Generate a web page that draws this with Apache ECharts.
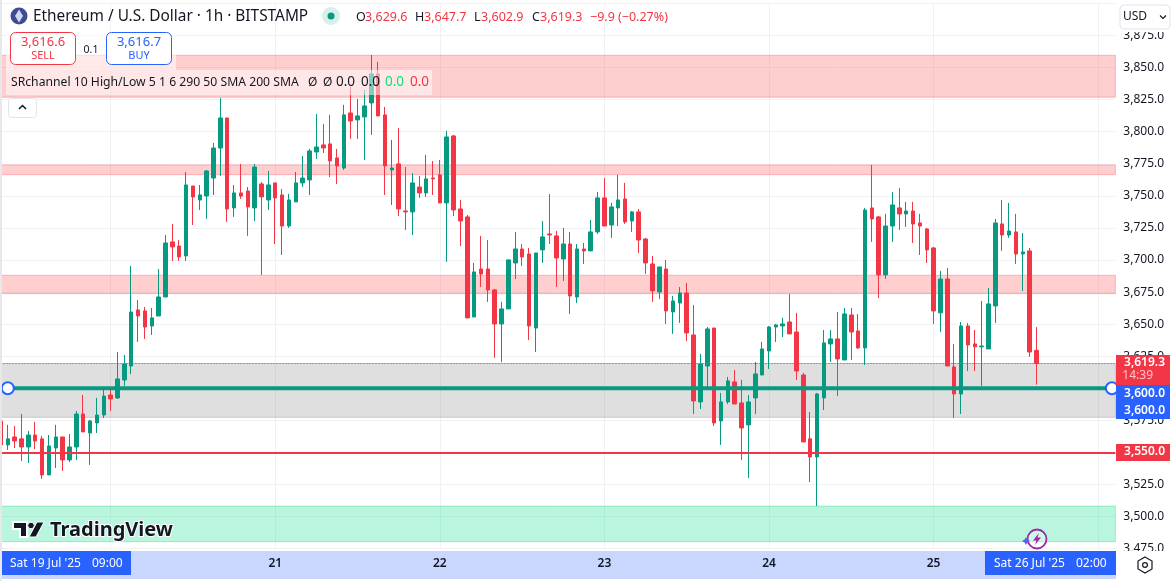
<!DOCTYPE html>
<html>
<head>
<meta charset="utf-8">
<title>ETH/USD 1h</title>
<script src="https://cdn.jsdelivr.net/npm/echarts@6/dist/echarts.min.js"></script>
<style>
html, body { margin: 0; padding: 0; background: #fff; }
#chart { width: 1176px; height: 581px; }
</style>
</head>
<body>
<div id="chart"></div>
<script>
// candle values, one per hour from 19 Jul 08:00
var opens = [
	3574.6,3555.9,3562.1,3560.6,3554.3,3563.6,3560.6,3532.5,3553.5,3562.1,
	3544.2,3554.3,3580.0,3565.2,3573.0,3579.2,3594.8,3592.5,3606.5,3617.4,
	3661.1,3660.3,3648.6,3656.4,3671.2,3714.1,3710.9,3703.2,3757.7,3746.8,
	3749.9,3763.9,3787.3,3810.7,3740.6,3752.3,3753.8,3740.6,3759.3,3746.8,
	3760.1,3750.7,3726.5,3745.3,3760.1,3762.4,3784.2,3789.7,3790.5,3779.6,
	3771.7,3814.6,3809.2,3811.5,3822.4,3845.0,3813.1,3770.2,3774.9,3738.2,
	3737.5,3756.9,3752.3,3763.9,3766.3,3744.5,3796.7,3739.8,3733.6,3655.6,
	3693.0,3693.0,3676.7,3650.2,3661.9,3697.7,3708.6,3704.7,3647.0,3707.9,
	3720.3,3718.8,3700.8,3712.5,3671.2,3708.6,3707.1,3721.9,3748.4,3727.3,
	3740.6,3747.6,3730.4,3737.5,3716.4,3696.9,3675.1,3693.0,3659.5,3666.5,
	3674.3,3641.6,3589.4,3617.4,3647.0,3574.6,3589.4,3605.0,3588.6,3571.5,
	3592.5,3610.4,3629.1,3647.8,3648.6,3651.7,3643.9,3610.4,3560.6,3546.5,
	3592.5,3634.6,3638.5,3622.1,3657.2,3644.7,3631.5,3740.6,3733.6,3688.4,
	3726.5,3740.6,3735.9,3738.2,3728.9,3724.2,3709.4,3658.8,3685.2,3616.7,
	3595.6,3648.6,3634.6,3632.3,3630.7,3664.2,3728.1,3719.5,3721.9,3704.7,
	3707.1,3629.6
];
var closes = [
	3555.9,3560.6,3559.0,3554.3,3563.6,3559.0,3532.5,3555.1,3562.1,3544.2,
	3554.3,3580.0,3566.0,3574.6,3579.2,3594.0,3591.7,3607.3,3619.0,3659.5,
	3656.4,3647.8,3654.9,3671.2,3713.3,3710.2,3702.4,3758.5,3749.2,3750.7,
	3769.4,3787.3,3810.7,3739.8,3752.3,3749.9,3741.4,3772.5,3749.2,3758.5,
	3748.4,3726.5,3746.8,3760.1,3763.9,3785.0,3788.1,3787.3,3777.2,3773.3,
	3813.1,3808.4,3812.3,3820.1,3845.0,3812.3,3773.3,3771.7,3739.8,3737.5,
	3760.1,3752.3,3763.2,3763.2,3744.5,3795.9,3739.0,3730.4,3654.9,3690.7,
	3689.1,3676.7,3650.2,3661.9,3700.1,3708.6,3702.4,3648.6,3705.5,3718.0,
	3719.5,3701.6,3712.5,3672.0,3708.6,3707.1,3721.9,3748.4,3726.5,3741.4,
	3746.8,3729.7,3737.5,3715.6,3697.7,3675.9,3694.6,3660.3,3668.1,3674.3,
	3643.2,3590.2,3619.0,3646.3,3573.0,3589.4,3605.8,3587.8,3569.1,3589.4,
	3611.2,3630.7,3647.8,3649.4,3650.2,3642.4,3613.5,3558.2,3546.5,3595.6,
	3635.4,3638.5,3622.9,3658.0,3643.9,3631.5,3739.0,3732.0,3688.4,3726.5,
	3742.9,3735.9,3738.2,3728.1,3726.5,3707.9,3660.3,3685.2,3617.4,3595.6,
	3648.6,3633.8,3632.3,3633.0,3665.8,3728.9,3719.5,3722.6,3704.7,3706.3,
	3628.3,3619.3
];
var lows = [
	3551.9,3552.0,3553.5,3543.4,3541.8,3552.7,3529.4,3532.5,3537.9,3535.6,
	3542.6,3544.2,3566.0,3540.3,3565.2,3576.9,3582.4,3591.7,3601.9,3611.2,
	3636.1,3638.5,3641.6,3656.4,3671.2,3699.3,3699.3,3699.3,3727.3,3739.0,
	3732.0,3750.7,3765.5,3729.7,3733.6,3747.6,3718.8,3730.4,3688.4,3739.0,
	3712.5,3703.9,3725.0,3745.3,3756.9,3750.7,3778.8,3783.4,3764.7,3759.3,
	3770.2,3794.4,3794.4,3778.0,3797.5,3812.3,3750.7,3742.9,3734.3,3723.4,
	3719.5,3748.4,3749.2,3750.7,3744.5,3698.5,3734.3,3710.9,3654.9,3655.6,
	3679.0,3667.3,3623.7,3620.6,3661.9,3685.2,3695.4,3637.7,3628.3,3697.7,
	3712.5,3679.0,3683.7,3658.0,3666.5,3696.9,3707.1,3720.3,3726.5,3717.2,
	3726.5,3728.1,3721.9,3705.5,3689.1,3667.3,3669.7,3650.2,3642.4,3651.0,
	3636.9,3580.0,3583.9,3601.1,3570.7,3555.9,3587.8,3587.8,3544.2,3530.1,
	3580.0,3610.4,3615.1,3636.1,3640.0,3642.4,3606.5,3558.2,3527.0,3508.3,
	3583.1,3620.6,3594.0,3622.1,3622.1,3630.7,3618.2,3714.1,3670.4,3685.2,
	3714.1,3723.4,3725.8,3713.3,3703.9,3697.7,3650.2,3644.0,3617.4,3576.9,
	3580.0,3613.5,3613.5,3601.9,3630.7,3651.0,3707.1,3717.2,3696.9,3675.9,
	3624.5,3602.9
];
var highs = [
	3576.9,3571.5,3570.7,3580.0,3566.8,3573.8,3562.9,3563.6,3571.5,3562.1,
	3564.4,3582.4,3594.8,3575.4,3592.5,3599.5,3598.7,3628.3,3626.0,3695.4,
	3668.9,3663.4,3662.6,3693.0,3719.5,3728.1,3715.6,3768.6,3757.7,3758.5,
	3770.2,3791.2,3826.3,3810.7,3758.5,3774.9,3756.9,3774.9,3760.8,3769.4,
	3760.1,3755.4,3751.5,3768.6,3781.1,3786.6,3813.8,3806.1,3813.1,3786.6,
	3820.9,3834.9,3825.5,3832.6,3859.8,3854.4,3819.3,3793.6,3802.9,3772.5,
	3767.9,3765.5,3781.9,3777.2,3778.0,3800.6,3797.5,3746.8,3735.1,3697.7,
	3718.8,3715.6,3677.5,3667.3,3700.1,3721.9,3712.5,3709.4,3705.5,3730.4,
	3751.5,3722.7,3725.0,3721.9,3712.5,3713.3,3731.2,3753.0,3763.9,3744.5,
	3766.3,3760.1,3738.2,3739.8,3717.2,3703.2,3694.6,3700.1,3672.0,3679.0,
	3682.1,3665.0,3626.8,3647.8,3647.0,3596.4,3608.9,3614.3,3606.5,3594.8,
	3620.6,3636.1,3648.6,3650.2,3654.9,3673.6,3658.8,3612.0,3581.6,3596.4,
	3645.5,3645.5,3659.5,3662.6,3662.6,3657.9,3740.6,3774.1,3734.3,3735.9,
	3753.0,3756.2,3745.3,3745.3,3735.9,3725.0,3710.2,3691.5,3693.8,3634.6,
	3651.7,3651.0,3645.5,3668.1,3678.2,3732.0,3746.8,3744.5,3735.9,3721.1,
	3709.4,3647.7
];

// horizontal zones drawn on the chart [top, bottom]
var pinkZones = [[3859.6, 3826.9], [3774.1, 3766.5], [3688.1, 3673.8]];
var greyZone = [3619.3, 3577.4];
var greenZone = [3508.2, 3480.5];
var entryPrice = 3600;
var stopPrice = 3550;
var lastPrice = 3619.3;

// hourly categories, 19 Jul 08:00 .. 26 Jul 02:00
var categories = [];
for (var h = 0; h < 163; h++) {
	var d = new Date(Date.UTC(2025, 6, 19, 8 + h));
	categories.push(d.getUTCDate() + ' ' + ('0' + d.getUTCHours()).slice(-2) + ':00');
}

var candles = [];
for (var n = 0; n < opens.length; n++) {
	candles.push([opens[n], closes[n], lows[n], highs[n]]);
}

var UP = '#089981', DOWN = '#f23645', BLUE = '#2962ff', INK = '#131722';
var FONT = '"Noto Sans", sans-serif';

function isMidnight(idx, val) { return / 00:00$/.test(val); }
function price(v) {
	return v.toLocaleString('en-US', { minimumFractionDigits: 1, maximumFractionDigits: 1 });
}
function zoneArea(z, fill, border) {
	return [{
		yAxis: z[0],
		itemStyle: { color: fill, borderColor: border, borderWidth: 1 }
	}, { yAxis: z[1] }];
}
function txt(x, y, s, color, size, extra) {
	var st = { x: x, y: y, text: s, fill: color, font: (extra && extra.weight ? extra.weight + ' ' : '') + size + 'px ' + FONT,
		textVerticalAlign: 'middle', textAlign: (extra && extra.align) || 'left' };
	if (extra && extra.stroke) { st.stroke = extra.stroke; st.lineWidth = extra.lineWidth; }
	return { type: 'text', z: (extra && extra.z) || 30, silent: true, style: st };
}
function box(x, y, w, h, fill, extra) {
	extra = extra || {};
	return { type: 'rect', z: extra.z === undefined ? 20 : extra.z, silent: true,
		shape: { x: x, y: y, width: w, height: h, r: extra.r || 0 },
		style: { fill: fill, stroke: extra.stroke || null, lineWidth: extra.lineWidth || 1 } };
}
function poly(points, fill, z, stroke, lw) {
	return { type: 'polygon', z: z, silent: true, shape: { points: points },
		style: { fill: fill, stroke: stroke || null, lineWidth: lw || 1 } };
}
function ring(cx, cy, r, fill, stroke, lw, z) {
	return { type: 'circle', z: z, silent: true, shape: { cx: cx, cy: cy, r: r },
		style: { fill: fill, stroke: stroke || null, lineWidth: lw || 1 } };
}

var chrome = [
	// time axis strip
	box(2, 551, 1114, 28, '#c9d7fe', { z: -1 }),
	box(2, 551, 129, 24, BLUE),
	box(985, 551, 131, 24, BLUE),
	txt(10, 563.5, "Sat 19 Jul '25", '#fff', 12),
	txt(92, 563.5, '09:00', '#fff', 12),
	txt(994, 563.5, "Sat 26 Jul '25", '#fff', 12),
	txt(1076, 563.5, '02:00', '#fff', 12),
	// left edge
	box(0, 0, 2, 581, '#e8e8ea'),
	// right scale covers
	box(1116, 0, 60, 32, '#fff'),
	box(1116, 551, 60, 30, '#fff'),
	box(1120, 5, 50, 24, '#fff', { r: 4, stroke: '#e0e3eb' }),
	txt(1123, 17, 'USD', INK, 12),
	{ type: 'polyline', z: 30, silent: true, shape: { points: [[1160, 15.5], [1163, 18.5], [1166, 15.5]] }, style: { stroke: INK, fill: null, lineWidth: 1.2 } },
	box(1116, 355, 54, 30, DOWN),
	txt(1165, 363, price(lastPrice), '#fff', 12, { align: 'right', weight: 600 }),
	txt(1153, 376, '14:39', '#fbc5ca', 12, { align: 'right' }),
	box(1116, 385, 54, 34, BLUE),
	txt(1165, 394, price(entryPrice), '#fff', 12, { align: 'right', weight: 600 }),
	txt(1165, 410.5, price(entryPrice), '#fff', 12, { align: 'right', weight: 600 }),
	box(1116, 444, 54, 17, DOWN),
	txt(1165, 452, price(stopPrice), '#fff', 12, { align: 'right', weight: 600 }),
	// settings hexagon
	poly([[1145, 557], [1152, 561], [1152, 569], [1145, 573], [1138, 569], [1138, 561]], '#fff', 30, INK, 1.2),
	ring(1145, 565, 2.4, '#fff', INK, 1.2, 31),
	// header
	ring(19, 16, 8.5, '#3f4c91', null, 1, 30),
	poly([[19, 9.5], [23, 16], [19, 22.5], [15, 16]], '#cfd8f5', 31),
	txt(33, 17, 'Ethereum / U.S. Dollar · 1h · BITSTAMP', INK, 15.4),
	ring(331, 16, 9, '#d8f0eb', null, 1, 30),
	ring(331, 16, 3.5, UP, null, 1, 31),
	txt(356, 17, 'O', INK, 12.5), txt(365, 17, '3,629.6', DOWN, 12.5),
	txt(415, 17, 'H', INK, 12.5), txt(424, 17, '3,647.7', DOWN, 12.5),
	txt(474, 17, 'L', INK, 12.5), txt(481, 17, '3,602.9', DOWN, 12.5),
	txt(532, 17, 'C', INK, 12.5), txt(540, 17, '3,619.3', DOWN, 12.5),
	txt(590, 17, '\u22129.9 (\u22120.27%)', DOWN, 12.5),
	// sell / buy
	box(6, 30, 170, 40, 'rgba(255,255,255,0.55)', { z: 10 }),
	box(10.5, 32.5, 65, 32, '#fff', { r: 5, stroke: DOWN }),
	txt(43, 42, '3,616.6', DOWN, 13, { align: 'center' }),
	txt(43, 56, 'SELL', DOWN, 11, { align: 'center' }),
	txt(91, 50, '0.1', INK, 10.5, { align: 'center' }),
	box(106.5, 32.5, 65, 32, '#fff', { r: 5, stroke: BLUE }),
	txt(139, 42, '3,616.7', BLUE, 13, { align: 'center' }),
	txt(139, 56, 'BUY', BLUE, 11, { align: 'center' }),
	// indicator legend
	box(6, 70, 426, 25, 'rgba(255,255,255,0.5)', { z: 10 }),
	txt(11, 82.5, 'SRchannel 10 High/Low 5 1 6 290 50 SMA 200 SMA', INK, 12.2),
	txt(308, 82.5, '\u00d8', INK, 12), txt(323, 82.5, '\u00d8', INK, 12),
	txt(336, 82.5, '0.0', INK, 13.5), txt(361, 82.5, '0.0', INK, 13.5),
	txt(385, 82.5, '0.0', '#00e676', 13.5), txt(410, 82.5, '0.0', DOWN, 13.5),
	box(8.5, 98.5, 28, 19, '#fff', { r: 3, stroke: '#e0e3eb' }),
	{ type: 'polyline', z: 30, silent: true, shape: { points: [[19, 109], [22.5, 105.5], [26, 109]] }, style: { stroke: INK, fill: null, lineWidth: 1.5 } },
	// logo
	poly([[13, 522], [27, 522], [27, 537], [20, 537], [20, 529], [13, 529]], INK, 30, '#fff', 2),
	ring(31, 525.5, 3.3, INK, '#fff', 1, 30),
	poly([[37, 522], [44, 522], [36, 537], [29, 537]], INK, 30, '#fff', 1),
	txt(50, 530.5, 'TradingView', INK, 20, { weight: 700, stroke: '#fff', lineWidth: 2 }),
	// promo badge
	ring(1037, 539, 9.5, 'rgba(255,255,255,0.3)', '#9c27b0', 1.8, 30),
	poly([[1039, 533], [1033, 540.5], [1036.5, 540.5], [1035, 545], [1041, 537.5], [1037.5, 537.5]], '#9c27b0', 31),
	poly([[1026, 537], [1027.4, 539.6], [1030, 541], [1027.4, 542.4], [1026, 545], [1024.6, 542.4], [1022, 541], [1024.6, 539.6]], '#5a62e6', 31)
];

var chart = echarts.init(document.getElementById('chart'));
chart.setOption({
	animation: false,
	// v6 would otherwise squeeze the grid to keep the labels inside the canvas
	grid: { left: -2.5, top: 3.4, width: 1117.85, height: 545.3, outerBoundsMode: 'none' },
	xAxis: {
		type: 'category',
		data: categories,
		axisLine: { show: false },
		axisTick: { show: false },
		axisLabel: {
			interval: isMidnight,
			margin: 9,
			color: INK,
			fontFamily: FONT,
			fontSize: 12,
			fontWeight: 600,
			formatter: function (v) { return v.split(' ')[0]; }
		},
		splitLine: { show: true, alignWithLabel: true, interval: isMidnight, lineStyle: { color: '#f0f1f4' } }
	},
	yAxis: {
		type: 'value',
		position: 'right',
		min: 3475,
		max: 3900,
		interval: 25,
		axisLine: { show: false },
		axisTick: { show: false },
		axisLabel: { margin: 8, align: 'left', color: INK, fontFamily: FONT, fontSize: 12, padding: [0, 0, 3, 0], formatter: price },
		splitLine: { lineStyle: { color: '#f0f1f4' } }
	},
	series: [{
		type: 'candlestick',
		data: candles,
		barWidth: 4,
		itemStyle: { color: UP, color0: DOWN, borderColor: UP, borderColor0: DOWN, borderWidth: 1 },
		markArea: {
			silent: true,
			data: pinkZones.map(function (z) {
				return zoneArea(z, 'rgba(255,82,82,0.28)', 'rgba(242,54,69,0.3)');
			}).concat([
				zoneArea(greyZone, 'rgba(120,120,125,0.24)', 'rgba(120,120,125,0.35)'),
				zoneArea(greenZone, 'rgba(0,220,130,0.27)', 'rgba(0,200,120,0.3)')
			])
		},
		markLine: {
			silent: true,
			symbol: 'none',
			label: { show: false },
			data: [
				{ yAxis: stopPrice, lineStyle: { color: DOWN, width: 2, type: 'solid' } },
				{ yAxis: lastPrice, lineStyle: { color: DOWN, width: 1, type: [1, 2] } }
			]
		}
	}, {
		type: 'line',
		z: 6,
		data: [[categories[1], entryPrice], [categories[162], entryPrice]],
		showAllSymbol: true,
		symbol: 'circle',
		symbolSize: 12,
		lineStyle: { color: UP, width: 4 },
		itemStyle: { color: '#fff', borderColor: BLUE, borderWidth: 2 }
	}],
	graphic: { elements: chrome }
});
</script>
</body>
</html>
